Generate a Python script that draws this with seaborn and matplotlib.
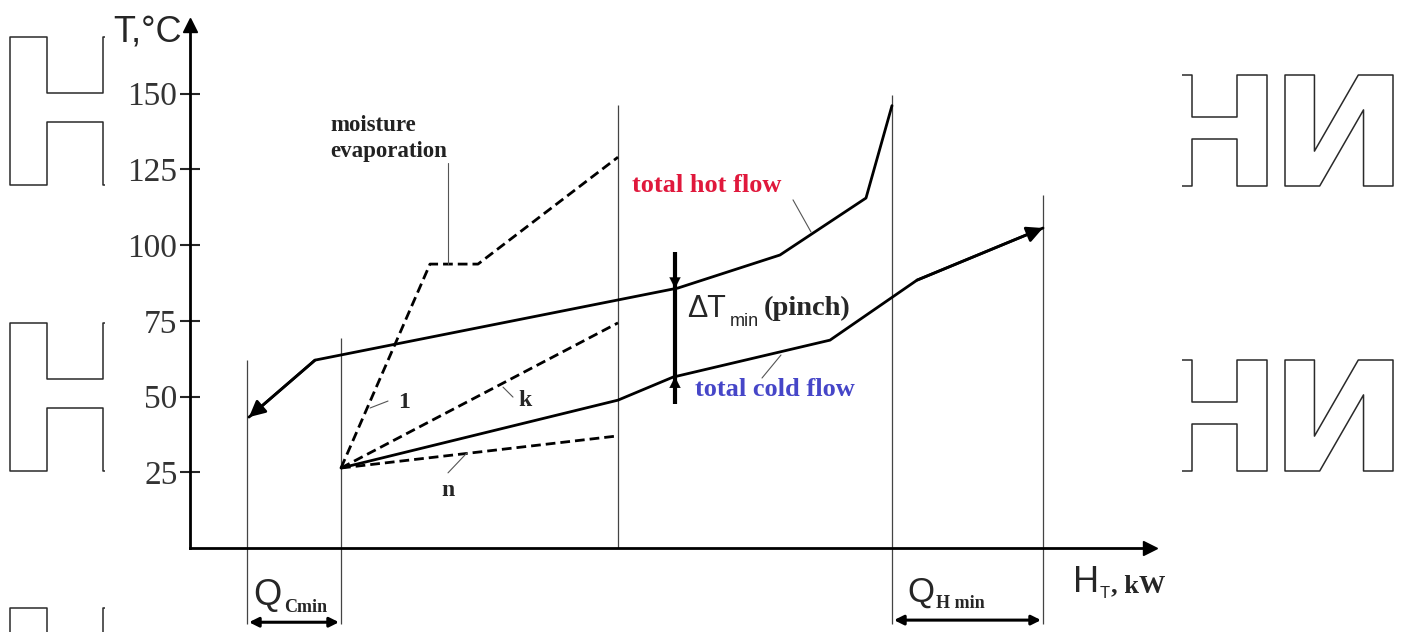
import numpy as np
import pandas as pd
import matplotlib.pyplot as plt
import seaborn as sns
from matplotlib.textpath import TextPath
from matplotlib.patches import PathPatch, Rectangle
from matplotlib.font_manager import FontProperties
from matplotlib.transforms import Affine2D

# composite curves: enthalpy H (kW) vs temperature T (degC)
hot_H = [70.2, 67.6, 59.0, 48.8, 12.5, 5.9]
hot_T = [146.0, 115.5, 96.7, 85.8, 62.0, 43.2]
cold_H = [15.1, 42.8, 48.3, 64.0, 72.7, 85.3]
cold_T = [26.4, 48.8, 56.4, 68.6, 88.4, 105.6]

# dashed product curves (1 = with moisture evaporation, k, n)
moist_H = [15.1, 24.0, 28.8, 42.8]
moist_T = [26.4, 93.7, 93.7, 129.0]
k_H = [15.1, 42.8]
k_T = [26.4, 74.3]
n_H = [15.1, 42.8]
n_T = [26.4, 37.0]

y_ticks = [25, 50, 75, 100, 125, 150]

# thin boundary lines
bound_H = [5.7, 15.1, 42.8, 70.2, 85.3]
bound_top = [62.0, 69.3, 146.2, 149.5, 116.5]
bound_bot = [-25.0, -25.0, 0.0, -25.0, -25.0]
pinch_H = 48.5

sns.set_style("white")
plt.rcParams['font.family'] = ['Liberation Sans', 'DejaVu Sans']
SERIF = ['Liberation Serif', 'DejaVu Serif']

fig = plt.figure(figsize=(14.06, 6.32), dpi=100)

# --- background watermark letters (pixel coords) ---
bg = fig.add_axes([0, 0, 1, 1])
bg.set_xlim(0, 1406)
bg.set_ylim(632, 0)
bg.axis('off')


def glyph(ch, x0, y0, x1, y1):
    tp = TextPath((0, 0), ch, size=100,
                  prop=FontProperties(family='DejaVu Sans', weight='bold'))
    ext = tp.get_extents()
    tr = (Affine2D().translate(-ext.x0, -ext.y0)
          .scale((x1 - x0) / ext.width, -(y1 - y0) / ext.height)
          .translate(x0, y1))
    bg.add_patch(PathPatch(tr.transform_path(tp), fc='white', ec='#2a2a2a',
                           lw=1.1, joinstyle='round'))


for top in [37, 323, 608]:
    glyph('Н', 10, top, 140, top + 148)
for top in [75, 360]:
    glyph('Н', 1162, top, 1267, top + 111)
    glyph('И', 1285, top, 1393, top + 111)
bg.add_patch(Rectangle((105, 0), 1077, 632, fc='white', ec='none', zorder=5))

# --- main chart ---
ax = fig.add_axes([190 / 1406, 84 / 632, 960 / 1406, 523 / 632])
ax.patch.set_alpha(0)
ax.set_xlim(0, 96)
ax.set_ylim(0, 523 / 3.03)

for s in ['top', 'right']:
    ax.spines[s].set_visible(False)
for s in ['left', 'bottom']:
    ax.spines[s].set_linewidth(2)
    ax.spines[s].set_color('black')
ax.plot(1, 0, '>', color='black', ms=10, transform=ax.transAxes, clip_on=False)
ax.plot(0, 1, '^', color='black', ms=10, transform=ax.transAxes, clip_on=False)

ax.set_xticks([])
ax.set_yticks(y_ticks)
ax.tick_params(axis='y', direction='inout', length=14, width=1.5, pad=2,
               labelsize=24, labelcolor='#333333', left=True)
for lab in ax.get_yticklabels():
    lab.set_family(SERIF)

# boundary lines
ax.vlines(bound_H, bound_bot, bound_top, colors='#444444', lw=0.9, clip_on=False)

# composite curves
sns.lineplot(x=hot_H, y=hot_T, sort=False, color='black', lw=2, ax=ax)
sns.lineplot(x=cold_H, y=cold_T, sort=False, color='black', lw=2, ax=ax)
dash = (0, (3.5, 1.8))
for hh, tt in [(moist_H, moist_T), (k_H, k_T), (n_H, n_T)]:
    sns.lineplot(x=hh, y=tt, sort=False, color='black', lw=2, linestyle=dash, ax=ax)

arrow = dict(arrowstyle='-|>', color='black', lw=2, mutation_scale=24, shrinkA=0, shrinkB=0)
ax.annotate('', xy=(hot_H[-1], hot_T[-1]), xytext=(hot_H[-2], hot_T[-2]), arrowprops=arrow)
ax.annotate('', xy=(cold_H[-1], cold_T[-1]), xytext=(cold_H[-2], cold_T[-2]), arrowprops=arrow)

# pinch marker
hot_p = np.interp(pinch_H, hot_H[::-1], hot_T[::-1])
cold_p = np.interp(pinch_H, cold_H, cold_T)
ax.vlines(pinch_H, cold_p - 9, hot_p + 12, colors='black', lw=3)
pin = dict(arrowstyle='-|>', color='black', lw=0.1, mutation_scale=20, shrinkA=0, shrinkB=0)
ax.annotate('', xy=(pinch_H, hot_p), xytext=(pinch_H, hot_p + 7), arrowprops=pin)
ax.annotate('', xy=(pinch_H, cold_p), xytext=(pinch_H, cold_p - 6), arrowprops=pin)

# leader lines
leaders = [((25.8, 25.8), (127.1, 93.7)), ((60.3, 62.1), (114.9, 104.3)),
           ((59.1, 57.2), (63.7, 56.1)), ((18.0, 19.8), (46.2, 48.5)),
           ((31.3, 32.3), (53.1, 49.8)), ((27.7, 25.8), (31.4, 24.8))]
for xs, ys in leaders:
    ax.plot(xs, ys, color='#555555', lw=0.8)

bold_serif = dict(family=SERIF, weight='bold')
ax.text(14.0, 143.0, 'moisture\nevaporation', fontsize=16.5, va='top', ha='left',
        linespacing=1.35, color='#222222', **bold_serif)
ax.text(44.2, 119.5, 'total hot flow', fontsize=19, va='center', ha='left',
        color='#e0183c', **bold_serif)
ax.text(50.5, 52.3, 'total cold flow', fontsize=19, va='center', ha='left',
        color='#4646c8', **bold_serif)
ax.text(20.8, 47.9, '1', fontsize=17, va='center', ha='left', **bold_serif)
ax.text(33.5, 48.8, 'k', fontsize=17, va='center', ha='center', **bold_serif)
ax.text(25.8, 19.1, 'n', fontsize=17, va='center', ha='center', **bold_serif)

ax.text(49.7, 76.3, 'ΔT', fontsize=22, va='baseline', ha='left')
ax.text(54.0, 73.4, 'min', fontsize=13, va='baseline', ha='left')
ax.text(57.4, 76.9, '(pinch)', fontsize=20.5, va='baseline', ha='left', **bold_serif)

# axis labels
ax.text(-7.7, 167.0, 'T,°C', fontsize=26, va='baseline', ha='left', clip_on=False)
ax.text(88.3, -14.5, 'H', fontsize=26, va='baseline', ha='left', clip_on=False)
ax.text(91.0, -16.5, 'T', fontsize=12, va='baseline', ha='left', clip_on=False)
ax.text(92.1, -14.5, ', kW', fontsize=19, va='baseline', ha='left', clip_on=False, **bold_serif)

# Q_Cmin / Q_Hmin spans
span = dict(arrowstyle='<|-|>', color='black', lw=2.2, mutation_scale=14, shrinkA=0, shrinkB=0)
ax.annotate('', xy=(bound_H[0] + 0.2, -24.5), xytext=(bound_H[1] - 0.2, -24.5),
            arrowprops=span, annotation_clip=False)
ax.annotate('', xy=(bound_H[3] + 0.2, -23.8), xytext=(bound_H[4] - 0.2, -23.8),
            arrowprops=span, annotation_clip=False)
ax.text(6.3, -18.8, 'Q', fontsize=26, va='baseline', ha='left', clip_on=False)
ax.text(9.4, -21.1, 'Cmin', fontsize=13, va='baseline', ha='left', clip_on=False, **bold_serif)
ax.text(71.7, -17.8, 'Q', fontsize=25, va='baseline', ha='left', clip_on=False)
ax.text(74.6, -19.8, 'H min', fontsize=13, va='baseline', ha='left', clip_on=False, **bold_serif)

fig.savefig('out.png', dpi=100)
